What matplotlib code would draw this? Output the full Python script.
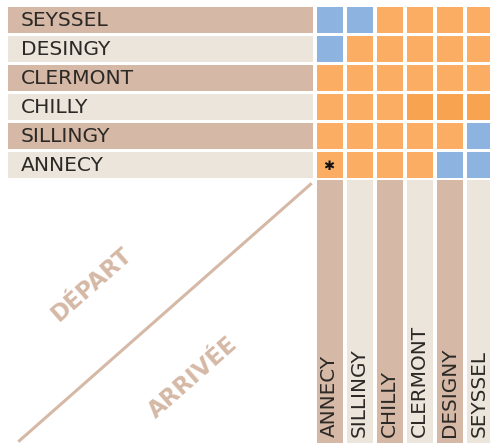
import matplotlib
matplotlib.use('Agg')
import matplotlib.pyplot as plt
from matplotlib.patches import Rectangle

# departures (rows, top to bottom) and arrivals (columns, left to right)
departs = ['SEYSSEL', 'DESINGY', 'CLERMONT', 'CHILLY', 'SILLINGY', 'ANNECY']
arrivees = ['ANNECY', 'SILLINGY', 'CHILLY', 'CLERMONT', 'DESIGNY', 'SEYSSEL']
# B = blue, O = orange, D = darker orange
grille = ['BBOOOO',
          'BOOOOO',
          'OOOOOO',
          'OOODDD',
          'OOOOOB',
          'OOOOBB']
etoile = (5, 0)  # row, col of the asterisk

couleurs = {'B': '#8db4e1', 'O': '#fbad64', 'D': '#f8a350'}
brun = '#d5b9a6'
clair = '#ebe5db'
texte = '#2b2826'

fig = plt.figure(figsize=(4.9, 4.43), dpi=100)
ax = fig.add_axes([0, 0, 1, 1])
ax.set_xlim(0, 490)
ax.set_ylim(443, 0)
ax.axis('off')

x0, px, w = 316.7, 30.0, 26.7
y0, py, h = 7.3, 29.0, 25.4

# row label bars
for i, nom in enumerate(departs):
    y = y0 + i * py
    ax.add_patch(Rectangle((7.5, y), 305.5, h, color=brun if i % 2 == 0 else clair, lw=0))
    ax.text(20.5, y + h / 2 + 0.5, nom, fontsize=14.6, color=texte, va='center', ha='left')

# grid cells
for i, ligne in enumerate(grille):
    for j, c in enumerate(ligne):
        ax.add_patch(Rectangle((x0 + j * px, y0 + i * py), w, h, color=couleurs[c], lw=0))
ax.text(x0 + etoile[1] * px + 12, y0 + etoile[0] * py + 14, '\u2731',
        fontsize=9.5, color='#111', ha='center', va='center')

# column label bars
for j, nom in enumerate(arrivees):
    x = x0 + j * px
    ax.add_patch(Rectangle((x, 180), w, 263, color=brun if j % 2 == 0 else clair, lw=0))
    ax.text(x + w / 2 - 1, 437, nom, fontsize=14.4, color=texte, rotation=90,
            ha='center', va='bottom')

# diagonal
ax.plot([311.7, 18.3], [183.3, 441.7], color=brun, lw=2.2, solid_capstyle='butt')
ax.text(92, 284, 'DÉPART', fontsize=16.5, fontweight='bold', color=brun,
        rotation=41.4, ha='center', va='center', rotation_mode='anchor')
ax.text(193, 378, 'ARRIVÉE', fontsize=16.5, fontweight='bold', color=brun,
        rotation=41.4, ha='center', va='center', rotation_mode='anchor')

fig.savefig('out.png', dpi=100)
